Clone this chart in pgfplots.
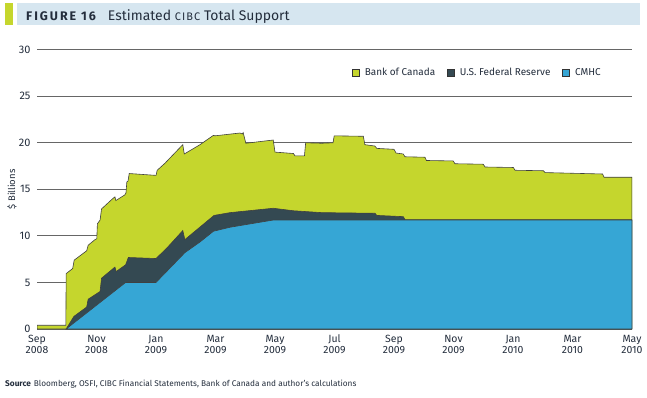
\documentclass[border=0pt]{standalone}
\usepackage{fontspec}
\setmainfont{Fira Sans}
\usepackage{pgfplots}
\pgfplotsset{compat=1.18}
\definecolor{boc}{RGB}{197,214,45}
\definecolor{fed}{RGB}{52,73,82}
\definecolor{cmhc}{RGB}{54,166,213}
\definecolor{titlebg}{RGB}{214,230,240}
\definecolor{txt}{RGB}{35,45,60}
\begin{document}
\begin{tikzpicture}[x=1bp,y=1bp]
\useasboundingbox (0,0) rectangle (647,397);
\fill[boc] (5,372) rectangle (13,394);
\fill[titlebg] (17,372) rectangle (640,394);
\node[anchor=base west, text=txt, inner sep=0] at (26,377) {{\fontsize{12.5}{14}\selectfont\bfseries\addfontfeature{LetterSpace=16}FIGURE 16}\hspace{12bp}{\fontsize{14}{16}\selectfont Estimated {\fontsize{11}{12}\selectfont\addfontfeature{LetterSpace=10}CIBC} Total Support}};
\node[anchor=base west, text=txt, inner sep=0] at (5,11) {\fontsize{8.3}{10}\selectfont\textbf{Source}\hspace{3bp}Bloomberg, OSFI, CIBC Financial Statements, Bank of Canada and author's calculations};
\begin{axis}[
  at={(37bp,68bp)}, anchor=south west, scale only axis,
  width=595bp, height=279.3bp,
  xmin=0, xmax=20, ymin=0, ymax=30,
  axis line style={draw=none},
  major tick length=0pt,
  ytick={0,5,...,30},
  xtick={0,2,...,20},
  xticklabels={{\strut Sep\\2008},{\strut Nov\\2008},{\strut Jan\\2009},{\strut Mar\\2009},{\strut May\\2009},{\strut Jul\\2009},{\strut Sep\\2009},{\strut Nov\\2009},{\strut Jan\\2010},{\strut Mar\\2010},{\strut May\\2010}},
  xticklabel style={align=center, font=\fontsize{10.5}{11.5}\selectfont, text=txt, inner sep=0pt, yshift=-5bp},
  yticklabel style={font=\fontsize{11}{12}\selectfont, text=txt, xshift=-3bp},
  /pgf/number format/assume math mode=true,
  ymajorgrids, grid style={color=black!60, line width=1bp},
  ylabel={\$ Billions},
  every axis y label/.style={at={(axis description cs:-0.042,0.5)}, rotate=90, anchor=center, font=\fontsize{9.5}{11}\selectfont, text=txt},
  legend style={at={(axis cs:19.12,27.5)}, anchor=east, draw=none, fill=none, legend columns=3, font=\fontsize{10}{12}\selectfont, text=txt, /tikz/every odd column/.append style={column sep=3bp}, /tikz/every even column/.append style={column sep=10bp}},
  legend cell align=left,
  legend image code/.code={\draw[#1, draw=black!80, line width=0.6bp] (0bp,-3.5bp) rectangle (7bp,3.5bp);},
]
% Top of Bank of Canada (cumulative total)
\addplot[fill=boc, draw=black!75, line width=0.6bp] table {
x y
0 0.4
0.97 0.4
0.98 5.95
1.20 6.5
1.25 7.4
1.67 8.4
1.72 9.0
1.95 9.6
2.01 9.7
2.03 11.3
2.12 11.7
2.17 12.9
2.51 13.9
2.62 14.2
2.65 13.8
2.95 14.4
2.99 14.6
3.02 15.8
3.06 15.9
3.10 16.7
4.00 16.5
4.04 17.05
4.30 17.8
4.36 18.0
4.90 19.8
4.95 18.8
5.48 19.8
5.93 20.8
5.98 20.75
6.82 21.05
6.90 20.95
6.93 21.1
7.02 19.95
7.94 20.3
8.00 19.0
8.62 18.85
8.67 18.6
8.99 18.6
9.03 20.0
9.57 19.95
9.95 20.0
9.99 20.75
10.97 20.7
11.02 19.8
11.36 19.65
11.42 19.4
12.00 19.3
12.07 18.9
12.31 18.8
12.37 18.5
13.04 18.45
13.09 18.1
13.99 18.05
14.05 17.75
15.00 17.7
15.06 17.4
16.01 17.35
16.07 17.05
17.02 17.0
17.08 16.8
19.01 16.65
19.06 16.3
20 16.3
} \closedcycle;
\addlegendentry{Bank of Canada}
% Top of U.S. Federal Reserve (CMHC + Fed)
\addplot[fill=fed, draw=black!75, line width=0.6bp] table {
x y
0.98 0
1.24 1.35
1.67 2.36
1.72 3.2
2.12 4.03
2.17 5.46
2.62 6.65
2.66 6.17
2.98 6.9
3.07 7.68
4.00 7.57
4.36 8.68
4.90 10.57
4.97 9.6
5.48 10.95
5.95 12.2
6.49 12.5
7.94 12.97
8.62 12.7
9.57 12.5
11.36 12.43
11.42 12.2
12.31 12.07
12.37 11.75
20 11.75
} \closedcycle;
\addlegendentry{U.S. Federal Reserve}
% CMHC
\addplot[fill=cmhc, draw=black!75, line width=0.6bp] table {
x y
0.98 0
2.98 5.0
4.00 5.0
4.97 8.2
5.48 9.35
5.93 10.5
6.49 10.93
7.94 11.7
20 11.7
} \closedcycle;
\addlegendentry{CMHC}
\end{axis}
\end{tikzpicture}
\end{document}
